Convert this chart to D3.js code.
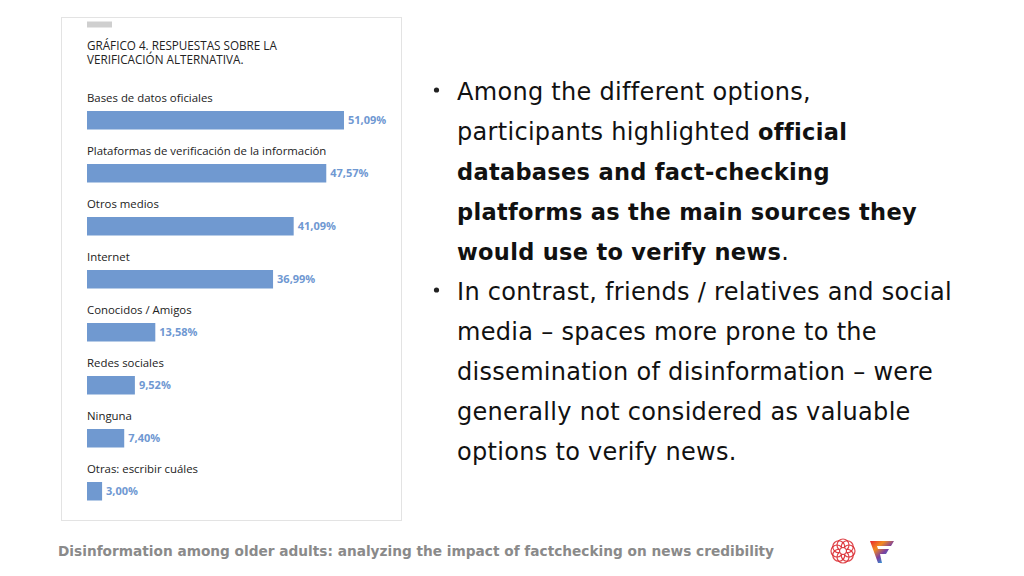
<!DOCTYPE html>
<html>
<head>
<meta charset="utf-8">
<script src="https://cdn.jsdelivr.net/npm/d3@7"></script>
<style>
  html, body { margin: 0; padding: 0; background: #ffffff; }
  svg { display: block; }
</style>
</head>
<body>
<svg id="chart" width="1024" height="576"></svg>
<script>
// ---- data ----
const chartTitle = ["GRÁFICO 4. RESPUESTAS SOBRE LA", "VERIFICACIÓN ALTERNATIVA."];
const categories = [
  "Bases de datos oficiales",
  "Plataformas de verificación de la información",
  "Otros medios",
  "Internet",
  "Conocidos / Amigos",
  "Redes sociales",
  "Ninguna",
  "Otras: escribir cuáles"
];
const values = [51.09, 47.57, 41.09, 36.99, 13.58, 9.52, 7.40, 3.00];

const bullet1 = [
  [{t: "Among the different options,", b: false}],
  [{t: "participants highlighted ", b: false}, {t: "official", b: true}],
  [{t: "databases and fact-checking", b: true}],
  [{t: "platforms as the main sources they", b: true}],
  [{t: "would use to verify news", b: true}, {t: ".", b: false}]
];
const bullet2 = [
  [{t: "In contrast, friends / relatives and social", b: false}],
  [{t: "media – spaces more prone to the", b: false}],
  [{t: "dissemination of disinformation – were", b: false}],
  [{t: "generally not considered as valuable", b: false}],
  [{t: "options to verify news.", b: false}]
];
const footerText = "Disinformation among older adults: analyzing the impact of factchecking on news credibility";

// ---- drawing ----
const svg = d3.select("#chart");
const locale = d3.formatLocale({decimal: ",", thousands: ".", grouping: [3], currency: ["", "€"]});
const fmt = v => locale.format(".2f")(v) + "%";

// card
svg.append("rect")
  .attr("x", 61.5).attr("y", 17.5).attr("width", 340).attr("height", 503)
  .attr("fill", "#ffffff").attr("stroke", "#e3e3e3").attr("stroke-width", 1);
svg.append("rect")
  .attr("x", 87).attr("y", 21.5).attr("width", 25).attr("height", 6)
  .attr("fill", "#cfcfcf");

svg.append("g").selectAll("text").data(chartTitle).join("text")
  .attr("x", 87).attr("y", (d, i) => 50 + i * 14)
  .attr("font-family", "'Open Sans', sans-serif")
  .attr("font-size", 11.7)
  .attr("fill", "#222")
  .text(d => d);

const x = d3.scaleLinear().domain([0, 100]).range([87, 590]);
const y = d3.scaleBand().domain(categories).range([85, 85 + 53 * categories.length]);

const rows = svg.append("g").selectAll("g").data(categories).join("g")
  .attr("transform", d => `translate(0,${y(d)})`);

rows.append("text")
  .attr("x", 87).attr("y", 17)
  .attr("font-family", "'Open Sans', sans-serif")
  .attr("font-size", 11.4)
  .attr("fill", "#222")
  .text(d => d);

rows.append("rect")
  .attr("x", x(0)).attr("y", 26)
  .attr("width", (d, i) => x(values[i]) - x(0))
  .attr("height", 18.5)
  .attr("fill", "#7099d0");

rows.append("text")
  .attr("x", (d, i) => x(values[i]) + 4).attr("y", 39)
  .attr("font-family", "'Open Sans', sans-serif")
  .attr("font-weight", 700)
  .attr("font-size", 11)
  .attr("fill", "#6f98d2")
  .text((d, i) => fmt(values[i]));

// right text
function drawBullet(lines, y0) {
  svg.append("circle").attr("cx", 436.5).attr("cy", y0 - 9.5).attr("r", 2.6).attr("fill", "#222");
  lines.forEach((segs, i) => {
    const t = svg.append("text")
      .attr("x", 457).attr("y", y0 + i * 40)
      .attr("font-family", "'DejaVu Sans', sans-serif")
      .attr("fill", "#111");
    segs.forEach(s => {
      t.append("tspan")
        .attr("font-weight", s.b ? 700 : 400)
        .attr("font-size", s.b ? 22.5 : 24)
        .attr("letter-spacing", s.b ? 0.3 : 0.3)
        .style("white-space", "pre")
        .text(s.t);
    });
  });
}
drawBullet(bullet1, 99.5);
drawBullet(bullet2, 299.5);

// footer
svg.append("text")
  .attr("x", 58).attr("y", 555.5)
  .attr("font-family", "'DejaVu Sans', sans-serif")
  .attr("font-weight", 700)
  .attr("font-size", 13.7)
  .attr("fill", "#8a8a8a")
  .text(footerText);

// logos
const logo1 = svg.append("g").attr("transform", "translate(843,551)");
d3.range(8).forEach(k => {
  const a = k * Math.PI / 4;
  logo1.append("circle")
    .attr("cx", 6 * Math.cos(a)).attr("cy", 6 * Math.sin(a)).attr("r", 6)
    .attr("fill", "none").attr("stroke", "#d9262c").attr("stroke-width", 1.2).attr("opacity", 0.85);
});
logo1.append("circle").attr("r", 3.5).attr("fill", "#fff").attr("stroke", "#d9262c").attr("stroke-width", 1);

const defs = svg.append("defs");
const grad = defs.append("linearGradient").attr("id", "fgrad").attr("x1", "0").attr("y1", "0").attr("x2", "1").attr("y2", "1");
[["0%", "#e8262c"], ["30%", "#f28b20"], ["55%", "#7b3fa0"], ["80%", "#1fa9e0"], ["100%", "#3cb54a"]].forEach(s =>
  grad.append("stop").attr("offset", s[0]).attr("stop-color", s[1]));
svg.append("path")
  .attr("d", "M870,541 L894,541 L891,546 L877,546 L878,549 L889,549 L886,554 L880,554 L882,563 L878,563 Z")
  .attr("fill", "url(#fgrad)");
</script>
</body>
</html>
